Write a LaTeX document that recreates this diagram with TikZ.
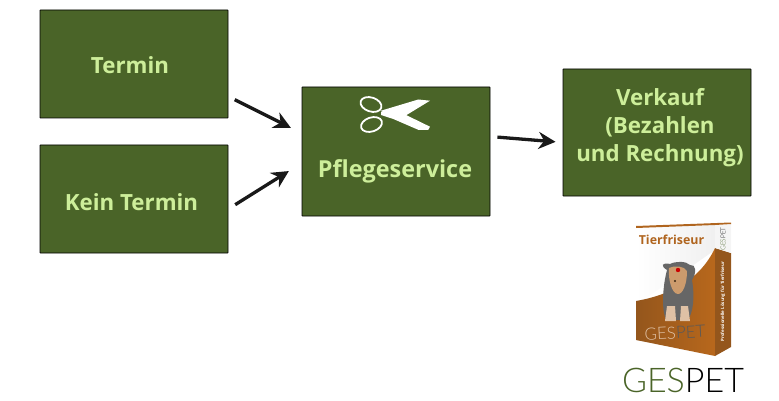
\documentclass[tikz,border=0pt]{standalone}
\usepackage{fontspec}
\setmainfont{Open Sans}
\newfontfamily\logofont{Lato Light}
\usepackage{tikz}
\usetikzlibrary{arrows.meta}
\definecolor{boxgreen}{HTML}{4A6428}
\definecolor{boxtext}{HTML}{CDEE9A}
\definecolor{boxbrown}{HTML}{B0651F}
\definecolor{boxbrowndark}{HTML}{94561C}
\definecolor{logogreen}{HTML}{4A6428}
\tikzset{
    stepbox/.style={draw=black, fill=boxgreen, line width=0.9pt, rounded corners=0.6pt, minimum width=188pt, inner sep=0pt},
    steplabel/.style={text=boxtext, inner sep=0pt, align=center, font=\bfseries\fontsize{22.3}{28}\selectfont},
    flow/.style={-{Stealth[length=17pt,width=17pt]}, line width=3.3pt, draw=black!90}
}
\begin{document}
\begin{tikzpicture}[x=1pt, y=-1pt]
    \useasboundingbox (0,0) rectangle (779,401);
    % Kaesten
    \node[stepbox, minimum height=108pt] (termin) at (134,64) {};
    \node[stepbox, minimum height=108pt] (keintermin) at (134,199) {};
    \node[stepbox, minimum height=129pt] (pflege) at (396,151.5) {};
    \node[stepbox, minimum height=127pt] (verkauf) at (657,132.5) {};
    \node[steplabel] (termintext) at (130,65) {Termin};
    \node[steplabel] (keintext) at (131.5,202) {Kein Termin};
    \node[steplabel, font=\bfseries\fontsize{23.4}{28}\selectfont] (pflegetext) at (395,171) {Pflegeservice};
    \node[steplabel] (verkauftext) at (660,128) {Verkauf\\(Bezahlen\\und Rechnung)};
    % Pfeile
    \draw[flow, shorten <=7pt, shorten >=12pt] (termin.-19) -- (pflege.169.5);
    \draw[flow, shorten <=8pt, shorten >=15pt] (keintermin.-6) -- (pflege.187.5);
    \draw[flow, shorten <=7pt, shorten >=7pt] (pflege.9) -- (verkauf.186);
    % Schere
    \begin{scope}[white]
        \draw[line width=1.8pt] (371,104.5) ellipse [x radius=10.8pt, y radius=7pt, rotate=-18];
        \draw[line width=1.8pt] (371.5,124.5) ellipse [x radius=10.8pt, y radius=7pt, rotate=18];
        \fill (381,110.7) -- (418.3,99.5) -- (430,100.7) -- (403.3,117) -- (390,116) -- cycle;
        \fill (381,111.7) -- (390,109.3) -- (405,114.5) -- (430,126.7) -- (428.3,129.8) -- (418.3,129.8) -- (393.3,119) -- (381,115) -- cycle;
    \end{scope}
    % Produktkarton
    \shade[left color=white, right color=black!6] (636,228) -- (715,225) -- (715,250) -- (636,305) -- cycle;
    \shade[left color=boxbrowndark, right color=boxbrown!90!orange] (636,301) .. controls (670,295) and (700,280) .. (715,248) -- (715,356) -- (636,340) -- cycle;
    \fill[boxbrowndark] (715,248) -- (731,253) -- (731,347) -- (715,356) -- cycle;
    \fill[black!4] (715,225) -- (731,224) -- (731,253) -- (715,248) -- cycle;
    \fill[boxbrown] (636,228) -- (636,226) -- (731,222.5) -- (731,224) -- (715,225) -- cycle;
    \node[text=boxbrown, font=\bfseries\fontsize{12.4}{14}\selectfont] (produktname) at (671.5,240) {Tierfriseur};
    \node[rotate=90, font=\logofont\fontsize{6.5}{7}\selectfont] (produktside) at (723,239) {\textcolor{logogreen}{GES}\textcolor{black}{PET}};
    \node[rotate=90, text=white, font=\bfseries\fontsize{4.4}{5}\selectfont] (produktslogan) at (723,301.5) {Professionelle Lösung für Tierfriseur};
    % Hund
    \fill[black!60] (667,270) .. controls (660,266) and (662,262) .. (670,264) .. controls (676,261) and (686,261) .. (690,265) .. controls (696,264) and (697,272) .. (692,280) .. controls (695,298) and (693,312) .. (688,320) -- (666,320) .. controls (661,308) and (663,285) .. (667,270) -- cycle;
    \fill[boxbrown!65!white] (669,268) .. controls (675,265) and (684,266) .. (687,271) .. controls (687,284) and (683,294) .. (678,294) .. controls (672,294) and (668,280) .. (669,268) -- cycle;
    \fill[red!80!black] (678,270) circle (2.2pt);
    \fill[black!70!brown] (675,281) circle (1.2pt);
    \fill[boxbrown!40!white] (667,306) -- (675,306) -- (676,321) -- (665,321) -- cycle;
    \fill[boxbrown!40!white] (681,306) -- (688,306) -- (690,321) -- (680,321) -- cycle;
    % Logo
    \node[rotate=3, font=\logofont\fontsize{17}{18}\selectfont] (kartonlogo) at (675,333) {\textcolor{boxbrown!40!white}{GES}\textcolor{black!65}{PET}};
    \node[inner sep=0pt, font=\logofont\fontsize{34}{36}\selectfont] (logo) at (683,380) {\textcolor{logogreen}{GES}\textcolor{black}{PET}};
\end{tikzpicture}
\end{document}
